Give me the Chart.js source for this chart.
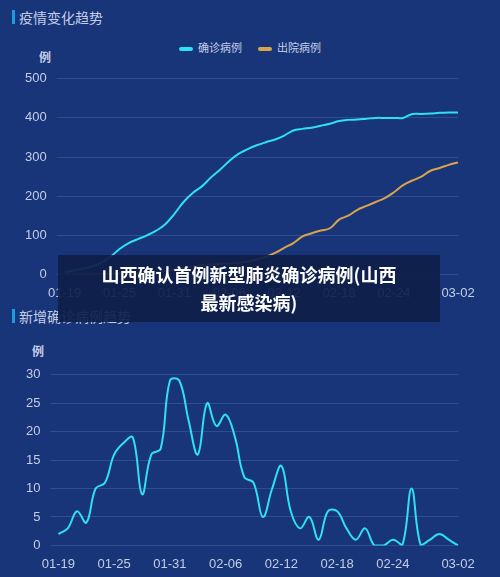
<!DOCTYPE html>
<html>
<head>
<meta charset="utf-8">
<script src="https://cdn.jsdelivr.net/npm/chart.js@4"></script>
<style>
  body { margin:0; width:500px; height:577px; background:#173578; overflow:hidden; font-family:"Noto Sans CJK SC","Noto Sans",sans-serif; position:relative; }
  .title { position:absolute; left:12px; color:#c5cde6; font-size:14px; border-left:3px solid #1e9be0; padding-left:4px; line-height:14px; }
  .unit { position:absolute; color:#c5cde6; font-size:12px; font-weight:bold; }
  .box { position:absolute; }
  .legend { position:absolute; top:39px; left:0; width:500px; text-align:center; color:#c5cde6; font-size:11px; }
  .legend span.sw { display:inline-block; width:14px; height:4px; border-radius:2px; vertical-align:middle; margin-right:5px; }
  .legend span.item { margin:0 8px; }
  .overlay { position:absolute; left:58px; top:255px; width:382px; height:67px; background:rgba(14,30,72,0.92); color:#fff; font-weight:bold; font-size:18px; text-align:center; line-height:28px; padding-top:5px; box-sizing:border-box; }
</style>
</head>
<body>
<div class="title" style="top:10px">疫情变化趋势</div>
<div class="legend"><span class="item"><span class="sw" style="background:#2fe0ee"></span>确诊病例</span><span class="item"><span class="sw" style="background:#d9a34c"></span>出院病例</span></div>
<div class="unit" style="left:39px;top:48px">例</div>
<div class="box" style="left:0;top:61px;width:500px;height:243px"><canvas id="top"></canvas></div>
<div class="title" style="top:309px">新增确诊病例趋势</div>
<div class="unit" style="left:32px;top:342px">例</div>
<div class="box" style="left:0;top:357px;width:500px;height:218px"><canvas id="bottom"></canvas></div>
<div class="overlay">山西确认首例新型肺炎确诊病例(山西<br>最新感染病)</div>
<script>
const dates = ["01-19","01-20","01-21","01-22","01-23","01-24","01-25","01-26","01-27","01-28","01-29","01-30","01-31",
  "02-01","02-02","02-03","02-04","02-05","02-06","02-07","02-08","02-09","02-10","02-11","02-12","02-13","02-14","02-15",
  "02-16","02-17","02-18","02-19","02-20","02-21","02-22","02-23","02-24","02-25","02-26","02-27","02-28","02-29","03-01","03-02"];
const confirmed = [5,10,15,20,30,45,65,80,90,100,112,128,155,185,208,225,248,268,290,308,320,330,338,345,355,368,372,375,380,385,392,395,396,398,400,400,400,400,410,410,411,413,414,414];
const discharged = [0,0,0,0,1,1,2,2,3,4,5,8,12,16,20,24,25,27,28,30,33,38,45,55,68,80,97,105,112,118,140,150,165,175,185,195,210,228,240,250,265,272,280,286];
const newCases = [2,3,6,4,10,11,16,18,19,9,16,17,29,29,22,16,25,21,23,19,12,11,5,10,14,6,3,5,1,6,6,3,1,3,0,0,1,0,10,0,1,2,1,0];

const tickColor = '#c5cde6';
function xTick(v, i) { return (i % 6 === 0 && i <= 36) || i === dates.length - 1 ? dates[i] : null; }
function axes(max, step) {
  return {
    x: { grid:{display:false}, border:{display:false},
         ticks:{color:tickColor, font:{size:13}, autoSkip:false, maxRotation:0, callback:xTick} },
    y: { min:0, max:max, grid:{color:'rgba(120,150,220,0.25)'}, border:{display:false},
         ticks:{color:tickColor, font:{size:13}, stepSize:step, padding:10} }
  };
}
new Chart(document.getElementById('top'), {
  type:'line',
  data:{ labels:dates, datasets:[
    {label:'确诊病例', data:confirmed, borderColor:'#2fe0ee', borderWidth:2, pointRadius:0, tension:0.4},
    {label:'出院病例', data:discharged, borderColor:'#d9a34c', borderWidth:2, pointRadius:0, tension:0.4}
  ]},
  options:{ responsive:true, maintainAspectRatio:false, animation:false,
    layout:{padding:{left:15, right:42, top:4, bottom:0}},
    plugins:{ legend:{display:false}, tooltip:{enabled:false} },
    scales:axes(500,100) }
});
new Chart(document.getElementById('bottom'), {
  type:'line',
  data:{ labels:dates, datasets:[
    {label:'新增确诊', data:newCases, borderColor:'#2fe0ee', borderWidth:2, pointRadius:0, tension:0.4}
  ]},
  options:{ responsive:true, maintainAspectRatio:false, animation:false,
    layout:{padding:{left:16, right:42, top:5, bottom:0}},
    plugins:{ legend:{display:false}, tooltip:{enabled:false} },
    scales:axes(30,5) }
});
</script>
</body>
</html>
